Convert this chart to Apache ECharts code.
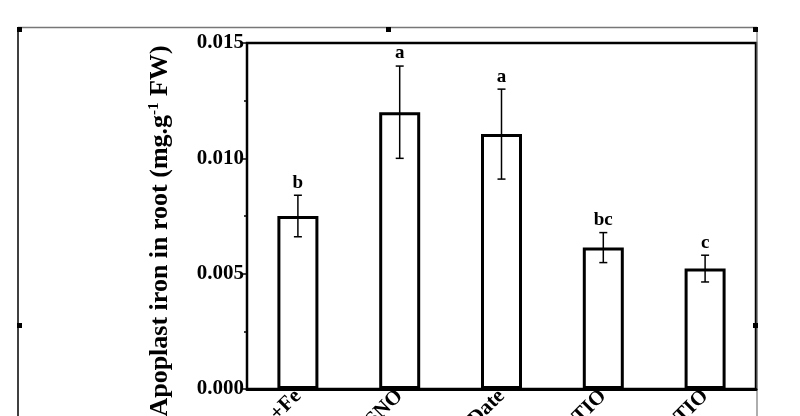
<!DOCTYPE html>
<html>
<head>
<meta charset="utf-8">
<script src="https://cdn.jsdelivr.net/npm/echarts@6/dist/echarts.min.js"></script>
<style>
  html, body { margin: 0; padding: 0; background: #fff; }
  #chart { width: 800px; height: 416px; }
</style>
</head>
<body>
<div id="chart"></div>
<script>
// data
const categories = ['+Fe', '-Fe+GSNO', '-Fe+Date', '-Fe+cPTIO', '+Fe+cPTIO'];
const values = [0.0075, 0.0120, 0.01105, 0.00613, 0.00522];
const errors = [0.0009, 0.0020, 0.00195, 0.00065, 0.00058];
const letters = ['b', 'a', 'a', 'bc', 'c'];

const FONT = '"Liberation Serif", "Times New Roman", serif';
const chart = echarts.init(document.getElementById('chart'));

// frame of the embedded picture (selection box with handles)
const frame = [];
frame.push({ type: 'line', shape: { x1: 18, y1: 27, x2: 18, y2: 416 }, style: { stroke: '#000', lineWidth: 1.5 } });
frame.push({ type: 'line', shape: { x1: 18, y1: 27.5, x2: 757, y2: 27.5 }, style: { stroke: '#777', lineWidth: 1.5 } });
frame.push({ type: 'line', shape: { x1: 757, y1: 27, x2: 757, y2: 416 }, style: { stroke: '#777', lineWidth: 1.2 } });
[[17, 27], [386, 27], [753, 27], [17, 323], [753, 323]].forEach(p => {
  frame.push({ type: 'rect', shape: { x: p[0], y: p[1], width: 5, height: 5 }, style: { fill: '#000' } });
});

const option = {
  backgroundColor: '#fff',
  animation: false,
  grid: {
    left: 247, right: 44, top: 43, bottom: 27,
    containLabel: false, outerBoundsMode: 'none',
    show: true, borderColor: '#000', borderWidth: 2.5
  },
  xAxis: {
    type: 'category',
    data: categories,
    axisLine: { lineStyle: { color: '#000', width: 3 } },
    axisTick: { show: false },
    axisLabel: { rotate: 45, margin: 4, color: '#000', fontFamily: FONT, fontWeight: 'bold', fontSize: 21 }
  },
  yAxis: {
    type: 'value',
    min: 0, max: 0.015, interval: 0.005,
    axisLine: { show: true, lineStyle: { color: '#000', width: 2 } },
    axisTick: { show: true, length: 6, lineStyle: { color: '#000', width: 1.5 } },
    minorTick: { show: true, splitNumber: 2, length: 3, lineStyle: { color: '#000', width: 1.5 } },
    splitLine: { show: false },
    axisLabel: {
      margin: 3, color: '#000', fontFamily: FONT, fontWeight: 'bold', fontSize: 21,
      formatter: v => v.toFixed(3)
    }
  },
  graphic: frame.concat([{
    type: 'text',
    x: 160, y: 231,
    rotation: Math.PI / 2,
    style: {
      text: '{t|Apoplast iron in root (mg.g}{s|-1}{t| FW)}',
      align: 'center', verticalAlign: 'middle',
      rich: {
        t: { fontFamily: FONT, fontWeight: 'bold', fontSize: 26, fill: '#000' },
        s: { fontFamily: FONT, fontWeight: 'bold', fontSize: 15, fill: '#000', verticalAlign: 'top' }
      }
    }
  }]),
  series: [
    {
      type: 'bar',
      data: values,
      barWidth: 41,
      itemStyle: { color: '#fff', borderColor: '#000', borderWidth: 3 }
    },
    {
      type: 'custom',
      data: values.map((v, i) => [i, v, errors[i]]),
      renderItem: (params, api) => {
        const i = api.value(0), v = api.value(1), e = api.value(2);
        const hi = api.coord([i, v + e]);
        const lo = api.coord([i, v - e]);
        const cap = 4;
        return {
          type: 'group',
          children: [
            { type: 'line', shape: { x1: hi[0], y1: hi[1], x2: lo[0], y2: lo[1] }, style: { stroke: '#000', lineWidth: 1.5 } },
            { type: 'line', shape: { x1: hi[0] - cap, y1: hi[1], x2: hi[0] + cap, y2: hi[1] }, style: { stroke: '#000', lineWidth: 1.5 } },
            { type: 'line', shape: { x1: lo[0] - cap, y1: lo[1], x2: lo[0] + cap, y2: lo[1] }, style: { stroke: '#000', lineWidth: 1.5 } },
            {
              type: 'text', x: hi[0], y: hi[1] - 3,
              style: {
                text: letters[params.dataIndex], align: 'center', verticalAlign: 'bottom',
                fontFamily: FONT, fontWeight: 'bold', fontSize: 19, fill: '#000'
              }
            }
          ]
        };
      },
      z: 5
    }
  ]
};
chart.setOption(option);
</script>
</body>
</html>
